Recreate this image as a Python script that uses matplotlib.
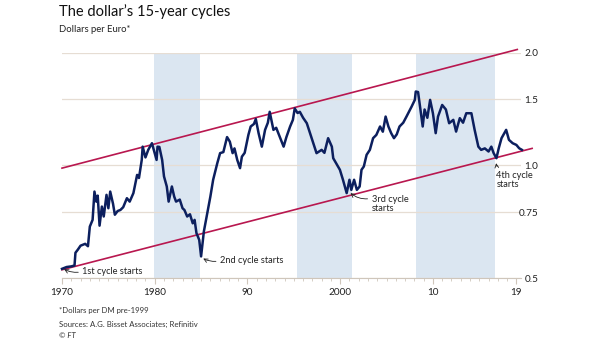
import matplotlib
matplotlib.use('Agg')
from matplotlib import pyplot as plt
from matplotlib.ticker import FixedLocator, NullLocator

plt.rcParams['font.family'] = ['Lato', 'DejaVu Sans']

# dollars per euro (synthetic euro via DM before 1999)
years = [1970.0, 1970.5, 1971.0, 1971.35, 1971.45, 1971.7, 1972.0, 1972.5, 1972.8, 1973.0,
         1973.3, 1973.5, 1973.7, 1973.85, 1974.05, 1974.3, 1974.5, 1974.8, 1975.0, 1975.2,
         1975.5, 1975.7, 1976.0, 1976.3, 1976.6, 1977.0, 1977.3, 1977.7, 1978.1, 1978.3,
         1978.6, 1978.7, 1979.0, 1979.3, 1979.7, 1979.9, 1980.2, 1980.3, 1980.5, 1980.8,
         1981.0, 1981.3, 1981.5, 1981.85, 1982.1, 1982.3, 1982.7, 1983.0, 1983.2, 1983.5,
         1983.8, 1984.1, 1984.3, 1984.5, 1984.8, 1985.0, 1985.1, 1985.3, 1985.6, 1986.0,
         1986.3, 1986.75, 1987.05, 1987.4, 1987.8, 1988.1, 1988.4, 1988.6, 1988.9, 1989.2,
         1989.4, 1989.7, 1990.1, 1990.35, 1990.7, 1990.9, 1991.2, 1991.55, 1991.9, 1992.2,
         1992.4, 1992.8, 1993.1, 1993.5, 1993.9, 1994.2, 1994.6, 1994.9, 1995.1, 1995.4,
         1995.65, 1996.0, 1996.4, 1996.75, 1997.1, 1997.45, 1998.0, 1998.3, 1998.7, 1999.1,
         1999.25, 1999.6, 1999.97, 2000.3, 2000.7, 2001.0, 2001.2, 2001.5, 2001.8, 2002.1,
         2002.3, 2002.55, 2002.85, 2003.2, 2003.55, 2003.9, 2004.3, 2004.6, 2004.9, 2005.2,
         2005.5, 2005.8, 2006.1, 2006.4, 2006.8, 2007.15, 2007.7, 2008.05, 2008.15, 2008.4,
         2008.65, 2008.9, 2009.1, 2009.4, 2009.7, 2010.0, 2010.3, 2010.55, 2011.0, 2011.4,
         2011.75, 2012.2, 2012.5, 2012.9, 2013.25, 2013.6, 2014.15, 2014.5, 2014.9, 2015.2,
         2015.6, 2016.0, 2016.3, 2016.55, 2016.85, 2017.1, 2017.4, 2017.9, 2018.2, 2018.6,
         2019.0, 2019.3, 2019.6]
rate = [0.529, 0.535, 0.537, 0.540, 0.584, 0.595, 0.610, 0.617, 0.608, 0.686,
        0.715, 0.851, 0.800, 0.830, 0.690, 0.776, 0.730, 0.834, 0.768, 0.851,
        0.790, 0.738, 0.755, 0.760, 0.773, 0.817, 0.800, 0.843, 0.943, 0.925,
        1.034, 1.122, 1.050, 1.100, 1.146, 1.100, 1.034, 1.122, 1.120, 1.034,
        0.934, 0.878, 0.800, 0.878, 0.825, 0.800, 0.810, 0.768, 0.760, 0.730,
        0.740, 0.700, 0.715, 0.659, 0.632, 0.571, 0.600, 0.666, 0.730, 0.825,
        0.915, 1.014, 1.078, 1.085, 1.190, 1.157, 1.078, 1.110, 1.034, 0.983,
        1.055, 1.080, 1.206, 1.270, 1.290, 1.330, 1.219, 1.122, 1.244, 1.300,
        1.390, 1.244, 1.260, 1.190, 1.122, 1.190, 1.270, 1.323, 1.420, 1.380,
        1.390, 1.340, 1.296, 1.219, 1.146, 1.078, 1.100, 1.080, 1.182, 1.122,
        1.045, 1.010, 0.973, 0.915, 0.843, 0.915, 0.860, 0.915, 0.860, 0.878,
        0.973, 0.993, 1.067, 1.100, 1.182, 1.206, 1.270, 1.230, 1.350, 1.270,
        1.219, 1.182, 1.210, 1.270, 1.300, 1.350, 1.435, 1.496, 1.575, 1.570,
        1.410, 1.270, 1.410, 1.340, 1.496, 1.378, 1.219, 1.350, 1.450, 1.410,
        1.296, 1.323, 1.231, 1.337, 1.300, 1.378, 1.378, 1.244, 1.122, 1.100,
        1.110, 1.089, 1.122, 1.078, 1.045, 1.111, 1.182, 1.244, 1.170, 1.146,
        1.134, 1.111, 1.100]

# shaded cycle periods
band_start = [1979.9, 1995.3, 2008.2]
band_end = [1984.9, 2001.3, 2016.7]

# trend channel end points
upper_x = [1970.0, 2019.1]
upper_y = [0.983, 2.04]
lower_x = [1970.0, 2020.7]
lower_y = [0.526, 1.11]

ytick_vals = [0.5, 0.75, 1.0, 1.5, 2.0]
ytick_labels = ['0.5', '0.75', '1.0', '1.5', '2.0']
xtick_vals = [1970, 1980, 1990, 2000, 2010, 2019]
xtick_labels = ['1970', '1980', '90', '2000', '10', '19']

navy = '#0c1f5e'
crimson = '#b8174f'
band = '#dbe6f1'
grid = '#e6ddd3'
ink = '#222222'

fig = plt.figure(figsize=(6.05, 3.41), dpi=100)
ax = fig.add_axes([62 / 605, 1 - 278 / 341, (521 - 62) / 605, (278 - 52.7) / 341])

for s, e in zip(band_start, band_end):
    ax.axvspan(s, e, color=band, lw=0, zorder=0)

ax.set_yscale('log')
ax.set_ylim(0.5, 2.0)
ax.set_xlim(1970, 2019.5)

ax.plot(upper_x, upper_y, color=crimson, lw=1.2, clip_on=False, zorder=3)
ax.plot(lower_x, lower_y, color=crimson, lw=1.2, clip_on=False, zorder=3)
ax.plot(years, rate, color=navy, lw=1.8, solid_joinstyle='round', clip_on=False, zorder=4)

ax.yaxis.set_major_locator(FixedLocator(ytick_vals))
ax.yaxis.set_minor_locator(NullLocator())
ax.set_yticklabels(ytick_labels)
ax.yaxis.tick_right()
ax.tick_params(axis='y', length=0, pad=12.5, labelsize=7.2, colors=ink)
for lab in ax.get_yticklabels():
    lab.set_horizontalalignment('right')
ax.grid(axis='y', color=grid, lw=0.9, zorder=1)

ax.set_xticks(xtick_vals)
ax.set_xticklabels(xtick_labels)
ax.set_xticks(range(1970, 2020), minor=True)
ax.tick_params(axis='x', which='major', length=4, color='#cfc6bb', labelsize=7.2, pad=3, labelcolor=ink)
ax.tick_params(axis='x', which='minor', length=2, color='#cfc6bb')

for side in ['top', 'left', 'right']:
    ax.spines[side].set_visible(False)
ax.spines['bottom'].set_color('#cfc6bb')
ax.spines['bottom'].set_linewidth(0.8)

arrow = dict(arrowstyle='->', color=ink, lw=0.6, shrinkA=1, shrinkB=1)
ax.annotate('1st cycle starts', xy=(1970.1, 0.530), xytext=(1972.2, 0.520),
            fontsize=6.7, va='center', ha='left', color=ink,
            arrowprops=dict(arrow, connectionstyle='arc3,rad=-0.2', relpos=(0, 0.5)))
ax.annotate('2nd cycle starts', xy=(1985.1, 0.566), xytext=(1987.05, 0.556),
            fontsize=6.7, va='center', ha='left', color=ink,
            arrowprops=dict(arrow, connectionstyle='arc3,rad=-0.2', relpos=(0, 0.5)))
ax.annotate('3rd cycle\nstarts', xy=(2001.0, 0.848), xytext=(2003.4, 0.835),
            fontsize=6.7, va='top', ha='left', color=ink, linespacing=1.05,
            arrowprops=dict(arrow, connectionstyle='arc3,rad=-0.25', relpos=(0, 0.8)))
ax.annotate('4th cycle\nstarts', xy=(2016.8, 1.022), xytext=(2016.85, 0.968),
            fontsize=6.7, va='top', ha='left', color=ink, linespacing=1.05,
            arrowprops=dict(arrow, connectionstyle='arc3,rad=-0.2', relpos=(0.1, 1.0)))

fig.text(59 / 605, 1 - 11.5 / 341, 'The dollar\u2019s 15-year cycles', fontsize=10.5,
         va='center', ha='left', color='#111111')
fig.text(59 / 605, 1 - 30 / 341, 'Dollars per Euro*', fontsize=6.8,
         va='center', ha='left', color=ink)
fig.text(59 / 605, 1 - 310.7 / 341, '*Dollars per DM pre-1999', fontsize=5.6,
         va='center', ha='left', color='#333333')
fig.text(59 / 605, 1 - 324 / 341, 'Sources: A.G. Bisset Associates; Refinitiv', fontsize=5.6,
         va='center', ha='left', color='#333333')
fig.text(59 / 605, 1 - 335 / 341, '\u00a9 FT', fontsize=5.6, style='italic',
         va='center', ha='left', color='#333333')

fig.savefig('out.png', dpi=100, facecolor='white')
